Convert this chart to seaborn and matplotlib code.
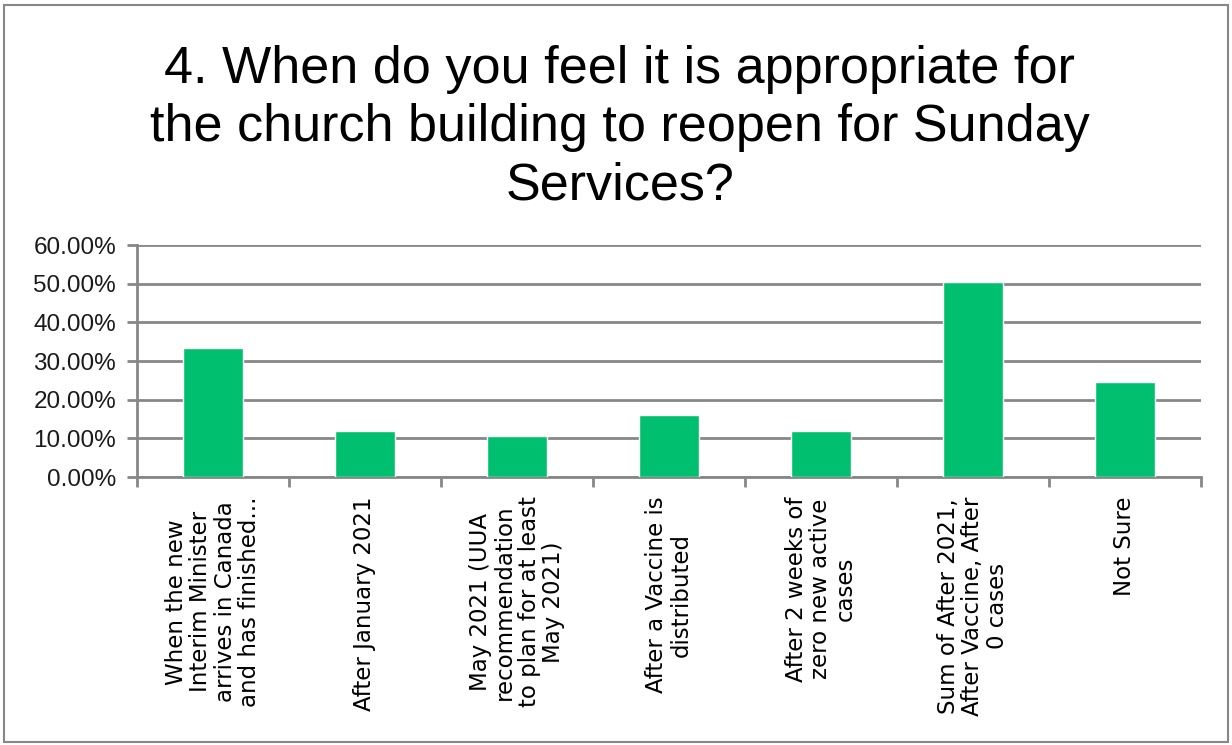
import matplotlib
matplotlib.use("Agg")
import matplotlib.pyplot as plt
import seaborn as sns
import pandas as pd
import numpy as np
from matplotlib.patches import Rectangle
from matplotlib.ticker import FuncFormatter, FixedLocator

categories = [
    "When the new\nInterim Minister\narrives in Canada\nand has finished...",
    "After January 2021",
    "May 2021 (UUA\nrecommendation\nto plan for at least\nMay 2021)",
    "After a Vaccine is\ndistributed",
    "After 2 weeks of\nzero new active\ncases",
    "Sum of After 2021,\nAfter Vaccine, After\n0 cases",
    "Not Sure",
]
values = [33.3, 11.8, 10.5, 16.1, 11.8, 50.5, 24.7]
yticks = [0, 10, 20, 30, 40, 50, 60]
title = "4. When do you feel it is appropriate for\nthe church building to reopen for Sunday\nServices?"

df = pd.DataFrame({"cat": categories, "val": values})

sns.set_theme(style="white")
plt.rcParams["font.family"] = ["Liberation Sans", "DejaVu Sans"]

fig = plt.figure(figsize=(12.32, 7.45), dpi=100)
ax = fig.add_axes([0.1112, 0.3597, 0.8636, 0.3114])

sns.barplot(data=df, x="cat", y="val", color="#00BF6F", saturation=1,
            width=0.39, ax=ax, zorder=3)

ax.set_ylim(0, 60)
ax.set_xlim(-0.5, len(categories) - 0.5)
ax.yaxis.set_major_locator(FixedLocator(yticks))
ax.yaxis.set_major_formatter(FuncFormatter(lambda v, p: f"{v:.2f}%"))
ax.grid(axis="y", color="#878787", linewidth=2, zorder=0)
ax.set_xlabel("")
ax.set_ylabel("")

for s in ["top", "right"]:
    ax.spines[s].set_visible(False)
for s in ["left", "bottom"]:
    ax.spines[s].set_color("#878787")
    ax.spines[s].set_linewidth(2)

ax.tick_params(axis="y", which="major", left=True, length=7, width=2,
               color="#878787", labelsize=17.5, pad=8, labelcolor="#1a1a1a")
ax.tick_params(axis="x", which="major", bottom=False, length=0, pad=14,
               labelsize=16.5, labelcolor="black")
ax.xaxis.set_minor_locator(FixedLocator(np.arange(-0.5, len(categories), 1.0)))
ax.tick_params(axis="x", which="minor", bottom=True, length=7, width=2,
               color="#878787")
for lab in ax.get_xticklabels():
    lab.set_rotation(90)
    lab.set_ha("center")
    lab.set_va("top")
    lab.set_multialignment("center")
    lab.set_family(["DejaVu Sans"])
    lab.set_linespacing(1.08)

fig.text(0.503, 0.94, title, ha="center", va="top", fontsize=37.5,
         linespacing=1.25, color="black")

fig.patches.append(Rectangle((0.003, 0.004), 0.994, 0.989, transform=fig.transFigure,
                             fill=False, edgecolor="#878787", linewidth=1.5))

fig.savefig("out.png", dpi=100, facecolor="white")
